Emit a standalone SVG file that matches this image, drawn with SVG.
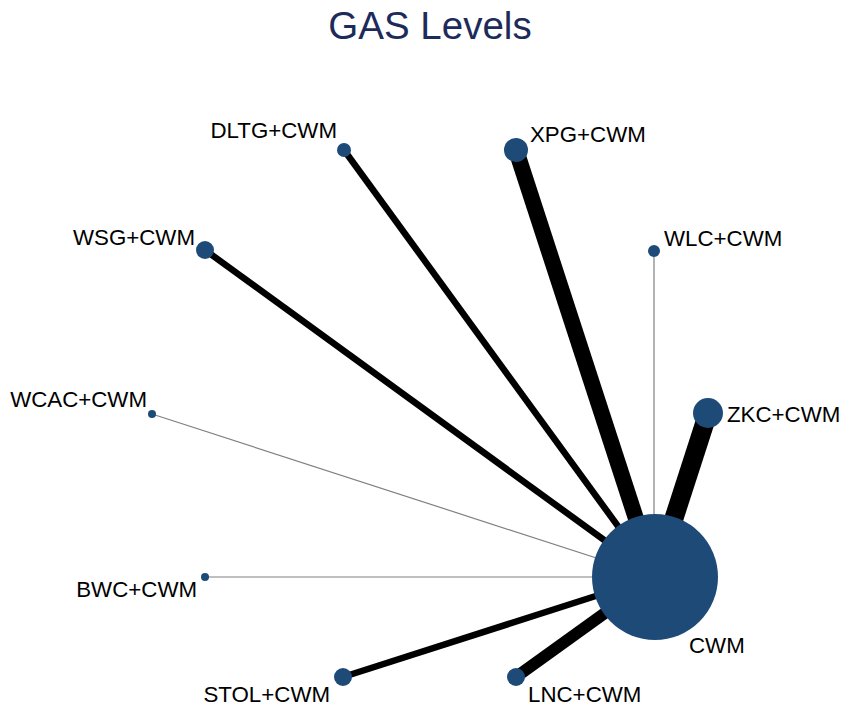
<svg xmlns="http://www.w3.org/2000/svg" width="851" height="718" viewBox="0 0 851 718">
<style>
.lbl{font-family:"Liberation Sans",Arial,sans-serif;font-size:22.3px;fill:#000}
.node{fill:#1e4a78}
.e{stroke:#000;stroke-linecap:butt}
.thin{stroke:#808080;stroke-width:1.2}
</style>
<rect width="851" height="718" fill="#fff"/>
<text x="430" y="39" text-anchor="middle" font-family="Liberation Sans,Arial,sans-serif" font-size="38.5" fill="#1c2b5a">GAS Levels</text>
<g id="connectors">
<line class="e" x1="516" y1="150" x2="655" y2="577" stroke-width="16"/>
<line class="e" x1="708" y1="413" x2="655" y2="577" stroke-width="19"/>
<line class="e" x1="344" y1="150" x2="655" y2="577" stroke-width="6.5"/>
<line class="e" x1="205" y1="250" x2="655" y2="577" stroke-width="6.5"/>
<line class="thin" x1="654" y1="251" x2="654" y2="577"/>
<line class="thin" x1="152" y1="414" x2="655" y2="577"/>
<line class="thin" x1="205" y1="577" x2="655" y2="577"/>
<line class="e" x1="343" y1="677" x2="655" y2="577" stroke-width="6.5"/>
<line class="e" x1="516" y1="677" x2="655" y2="577" stroke-width="12"/>
</g>
<g id="CWM"><circle class="node" cx="655" cy="577" r="63"/><text class="lbl" x="689" y="653">CWM</text></g>
<g id="ZKC"><circle class="node" cx="708" cy="413" r="15"/><text class="lbl" x="727" y="422">ZKC+CWM</text></g>
<g id="XPG"><circle class="node" cx="516" cy="150" r="12"/><text class="lbl" x="530" y="142">XPG+CWM</text></g>
<g id="DLTG"><circle class="node" cx="344" cy="150" r="7"/><text class="lbl" x="337" y="138" text-anchor="end">DLTG+CWM</text></g>
<g id="WSG"><circle class="node" cx="205" cy="250" r="9"/><text class="lbl" x="195" y="245" text-anchor="end">WSG+CWM</text></g>
<g id="WLC"><circle class="node" cx="654" cy="251" r="6"/><text class="lbl" x="664" y="246">WLC+CWM</text></g>
<g id="WCAC"><circle class="node" cx="152" cy="414" r="4"/><text class="lbl" x="147" y="407" text-anchor="end">WCAC+CWM</text></g>
<g id="BWC"><circle class="node" cx="205" cy="577" r="4"/><text class="lbl" x="197" y="597" text-anchor="end">BWC+CWM</text></g>
<g id="STOL"><circle class="node" cx="343" cy="677" r="9"/><text class="lbl" x="330" y="702" text-anchor="end">STOL+CWM</text></g>
<g id="LNC"><circle class="node" cx="516" cy="677" r="9"/><text class="lbl" x="528" y="702">LNC+CWM</text></g>
</svg>
